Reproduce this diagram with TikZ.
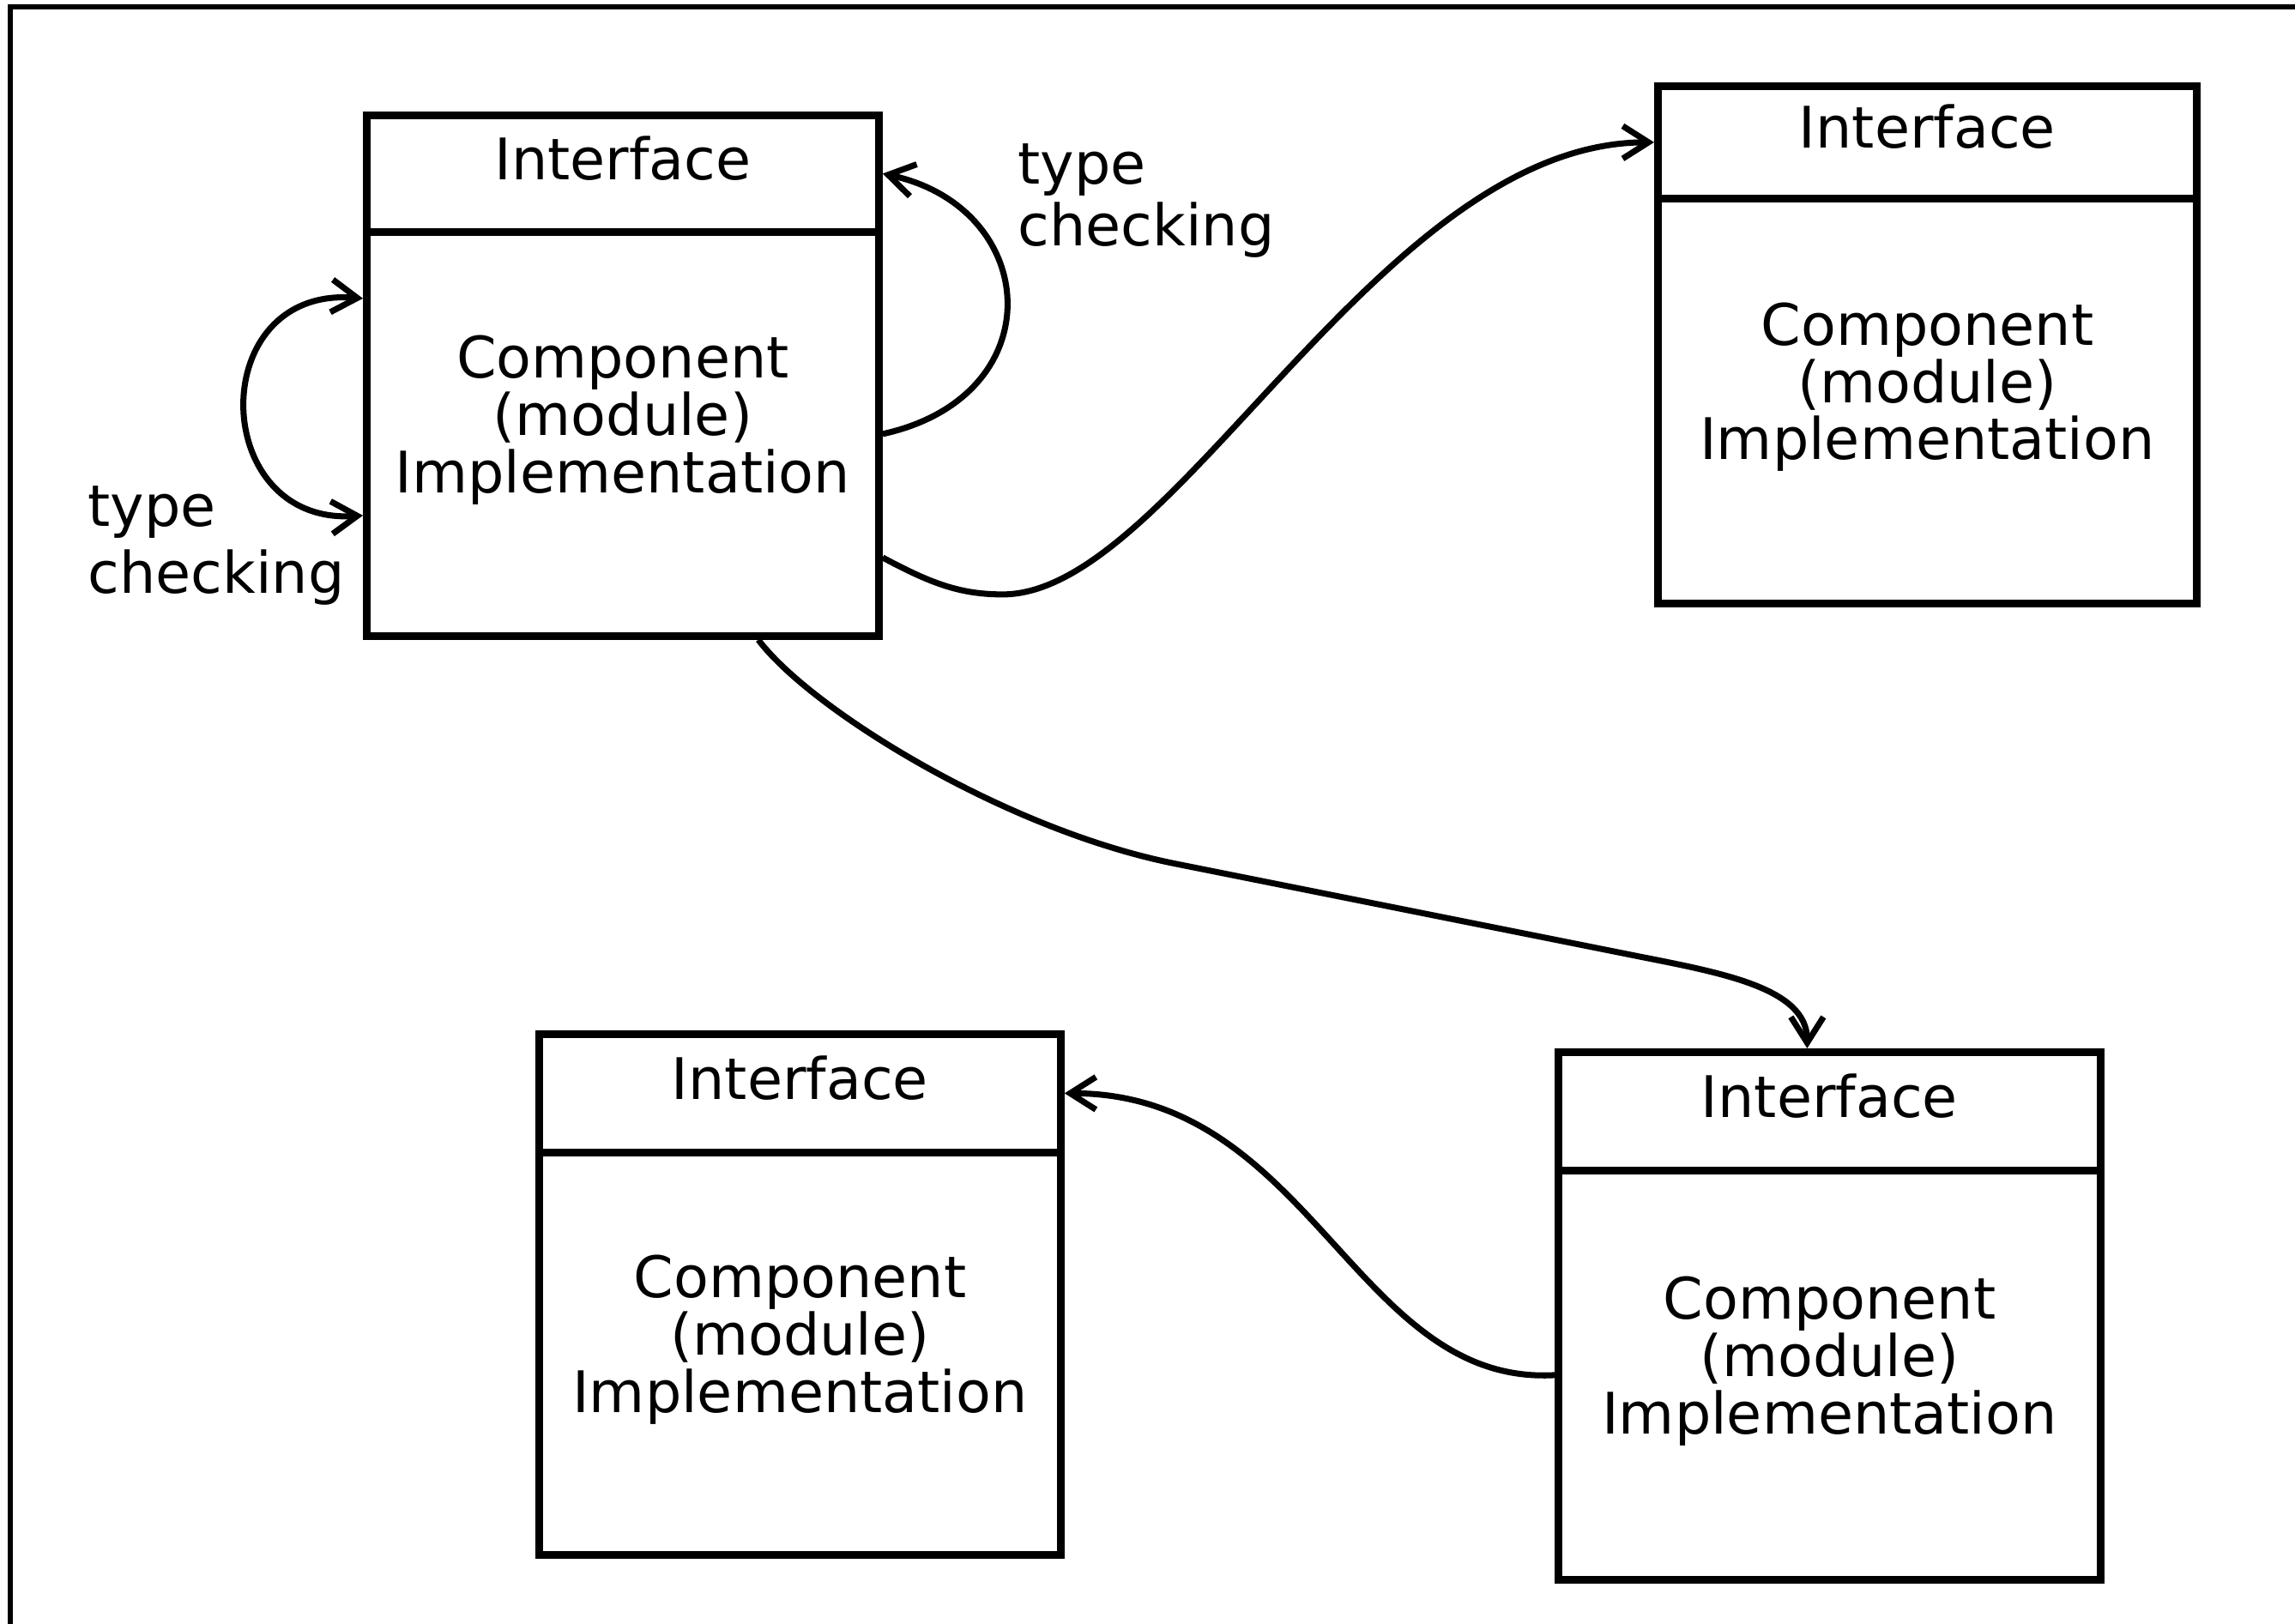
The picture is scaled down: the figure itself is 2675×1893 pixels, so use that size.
\documentclass[tikz,border=0pt]{standalone}
\usepackage{fontspec}
\setmainfont{DejaVu Sans}
\usetikzlibrary{arrows.meta}

\tikzset{
  part/.style={draw, line width=2.5pt, inner sep=0pt, anchor=north west},
  txt/.style={font=\fontsize{19}{19}\selectfont, align=center, inner sep=0pt},
  note/.style={font=\fontsize{19}{20.5}\selectfont, align=left, inner sep=0pt, anchor=west},
  >={Straight Barb[length=3mm,width=3.8mm]},
  conn/.style={line width=2pt, ->},
  loopconn/.style={line width=2pt, <->},
  frame/.style={line width=1.6pt},
}

\begin{document}
\begin{tikzpicture}[x=0.1mm, y=-0.1mm]
  \path[use as bounding box] (0,0) rectangle (2675,1893);
  \clip (0,0) rectangle (2675,1893);

  % outer frame (only its top and left sides fall inside the page)
  \coordinate (frameNW) at (12,8);
  \draw[frame] (frameNW -| 2760,0) -- (frameNW) -- (frameNW |- 0,1960);

  % component A (top left)
  \node[part, minimum width=59.7mm, minimum height=13.6mm] (AI) at (423,130) {};
  \node[part, minimum width=59.7mm, minimum height=47.1mm] (AB) at (423,266) {};
  % component B (top right)
  \node[part, minimum width=62.8mm, minimum height=13.1mm] (BI) at (1928,96) {};
  \node[part, minimum width=62.8mm, minimum height=47.2mm] (BB) at (1928,227) {};
  % component C (bottom left)
  \node[part, minimum width=60.8mm, minimum height=13.8mm] (CI) at (624,1201) {};
  \node[part, minimum width=60.8mm, minimum height=46.9mm] (CB) at (624,1339) {};
  % component D (bottom right)
  \node[part, minimum width=63.2mm, minimum height=13.8mm] (DI) at (1812,1222) {};
  \node[part, minimum width=63.2mm, minimum height=47.7mm] (DB) at (1812,1360) {};

  % box texts
  \foreach \b in {A,B,C,D}{
    \node[txt] (\b It) at ([yshift=1.8mm]\b I.center) {Interface};
    \node[txt] (\b Bt) at ([yshift=1.6mm]\b B.center) {Component\\(module)\\Implementation};
  }

  % labels
  \node[note] (tcR) at (1186,234) {type\\checking};
  \node[note, font=\fontsize{19}{22}\selectfont] (tcL) at (102,636) {type\\checking};

  % self checks of A
  \draw[conn] (AB.east) .. controls +(200,-44) and +(185,40) .. (AI.east);
  \draw[loopconn] ([yshift=15.8mm]AB.west) .. controls +(-185,-15) and +(-180,12) .. ([yshift=-9.5mm]AB.west);

  % A to B
  \draw[conn] ([yshift=-14.4mm]AB.east) .. controls +(56,30) and +(-50,0) .. ++(140,43)
     .. controls +(200,0) and +(-320,0) .. (BI.west);

  % A to D
  \draw[conn] ([xshift=15.8mm]AB.south) .. controls +(60,80) and +(-200,-40) .. ++(486,261)
     -- ++(535,107) .. controls +(100,20) and +(0,-71) .. ([xshift=-2.6mm]DI.north);

  % D to C
  \draw[conn] (DB.west) .. controls +(-232,13) and +(288,0) .. (CI.east);
\end{tikzpicture}
\end{document}
